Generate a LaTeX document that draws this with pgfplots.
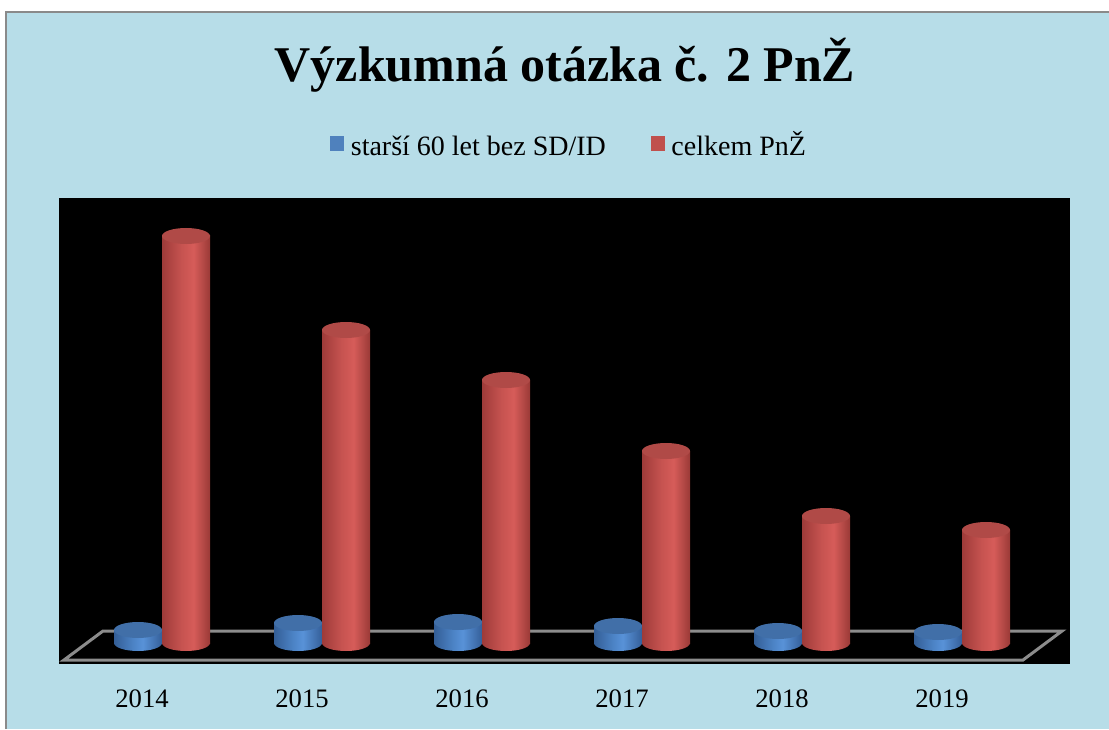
\documentclass[border=0pt]{standalone}
\usepackage{fontspec}
\setmainfont{Liberation Serif}
\usepackage{pgfplots}
\usepackage{pgfplotstable}
\pgfplotsset{compat=1.18}

% colours
\definecolor{bgblue}{HTML}{B7DDE8}
\definecolor{framegray}{HTML}{8A8A8A}
\definecolor{floorgray}{HTML}{8C8C8C}
\definecolor{legblue}{HTML}{4F81BD}
\definecolor{legred}{HTML}{C0504D}
\definecolor{rA}{HTML}{9E3B39}
\definecolor{rB}{HTML}{C65350}
\definecolor{rC}{HTML}{D65C59}
\definecolor{rD}{HTML}{9A3A37}
\definecolor{rtop}{HTML}{B04A47}
\definecolor{bA}{HTML}{345E96}
\definecolor{bB}{HTML}{4C83C6}
\definecolor{bC}{HTML}{5892D8}
\definecolor{bD}{HTML}{355F99}
\definecolor{btop}{HTML}{416FA8}

\pgfdeclarehorizontalshading{redcyl}{100bp}{color(0bp)=(rA); color(25bp)=(rA); color(45bp)=(rB); color(58bp)=(rC); color(75bp)=(rD); color(100bp)=(rD)}
\pgfdeclarehorizontalshading{bluecyl}{100bp}{color(0bp)=(bA); color(25bp)=(bA); color(45bp)=(bB); color(55bp)=(bC); color(75bp)=(bD); color(100bp)=(bD)}

% cylinder ends (bar shift built in)
\pgfdeclareplotmark{bluebase}{%
  \pgfpathellipse{\pgfqpoint{-3pt}{0pt}}{\pgfqpoint{18pt}{0pt}}{\pgfqpoint{0pt}{6pt}}%
  \pgfshadepath{bluecyl}{0}\pgfusepath{discard}}
\pgfdeclareplotmark{bluecap}{%
  \pgfpathellipse{\pgfqpoint{-3pt}{0pt}}{\pgfqpoint{18pt}{0pt}}{\pgfqpoint{0pt}{6pt}}%
  \pgfsetfillcolor{btop}\pgfusepath{fill}}
\pgfdeclareplotmark{redbase}{%
  \pgfpathellipse{\pgfqpoint{33pt}{0pt}}{\pgfqpoint{18pt}{0pt}}{\pgfqpoint{0pt}{6pt}}%
  \pgfshadepath{redcyl}{0}\pgfusepath{discard}}
\pgfdeclareplotmark{redcap}{%
  \pgfpathellipse{\pgfqpoint{33pt}{0pt}}{\pgfqpoint{18pt}{0pt}}{\pgfqpoint{0pt}{6pt}}%
  \pgfsetfillcolor{rtop}\pgfusepath{fill}}

\pgfplotstableread{
x base blue red
0 0 13 407
1 0 20 313
2 0 21 263
3 0 17 192
4 0 12 127
5 0 11 113
}\data

\begin{document}
\begin{tikzpicture}[x=0.75pt,y=0.75pt]
\useasboundingbox (0,0) rectangle (1109,729);
\fill[white] (0,0) rectangle (1109,729);
\fill[bgblue] (6,0) rectangle (1109,716.5);
\draw[framegray, line width=1.5pt] (6,0) -- (6,716.5) -- (1109,716.5);
\fill[black] (59,65) rectangle (1070,531);
\draw[floorgray, line width=2.25pt, line join=miter]
  (64,69) -- (1023,69) -- (1062,98) -- (103,98) -- cycle;
\coordinate (plotSW) at (59,65);

\node[font=\bfseries\fontsize{37.5}{45}\selectfont, anchor=base] at (565,647)
  {Výzkumná otázka č. 2 PnŽ};

\begin{axis}[
    at={(plotSW)}, anchor=south west,
    scale only axis, width=757.5pt, height=349.5pt,
    xmin=-0.51875, xmax=5.79375, ymin=-21, ymax=445,
    axis line style={draw=none},
    ytick=\empty,
    xtick={0,...,5},
    xticklabels={2014,2015,2016,2017,2018,2019},
    major tick length=0pt,
    xticklabel style={font=\fontsize{20}{24}\selectfont, anchor=base, yshift=-32.25pt},
    clip=false,
    legend columns=2,
    legend style={
        at={(axis description cs:0.5,1)},
        anchor=center,
        xshift=4pt, yshift=41.25pt,
        draw=none, fill=none,
        font=\fontsize{21}{25}\selectfont,
        /tikz/every odd column/.append style={column sep=3.5pt},
        /tikz/every even column/.append style={column sep=31.5pt}
    }
]
% blue series: base, body, top
\addplot[only marks, mark=bluebase, forget plot] table[x=x, y=base] {\data};
\pgfplotsinvokeforeach{0,...,5}{
  \addplot[ybar, bar width=36pt, bar shift=-3pt, draw=none, shading=bluecyl,
      restrict x to domain=#1:#1, forget plot] table[x=x, y=blue] {\data};
}
\addplot[only marks, mark=bluecap, forget plot] table[x=x, y=blue] {\data};

% red series: base, body, top
\addplot[only marks, mark=redbase, forget plot] table[x=x, y=base] {\data};
\pgfplotsinvokeforeach{0,...,5}{
  \addplot[ybar, bar width=36pt, bar shift=33pt, draw=none, shading=redcyl,
      restrict x to domain=#1:#1, forget plot] table[x=x, y=red] {\data};
}
\addplot[only marks, mark=redcap, forget plot] table[x=x, y=red] {\data};

\addlegendimage{legend image code/.code={
    \path[draw=none, fill=none] (0pt,-4.75pt) rectangle (9.75pt,13.25pt);
    \fill[legblue] (0pt,-4.75pt) rectangle (9.75pt,5.75pt);}}
\addlegendentry{starší 60 let bez SD/ID\vphantom{Ž/}}
\addlegendimage{legend image code/.code={
    \path[draw=none, fill=none] (0pt,-4.75pt) rectangle (9.75pt,13.25pt);
    \fill[legred] (0pt,-4.75pt) rectangle (9.75pt,5.75pt);}}
\addlegendentry{celkem PnŽ\vphantom{Ž/}}
\end{axis}
\end{tikzpicture}
\end{document}
